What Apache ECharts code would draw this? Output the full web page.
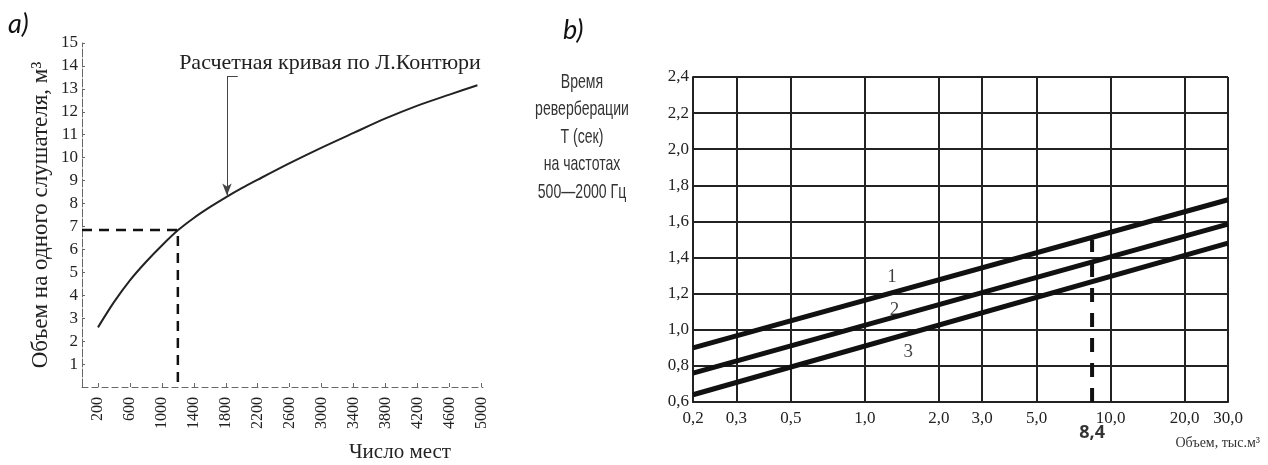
<!DOCTYPE html>
<html>
<head>
<meta charset="utf-8">
<script src="https://cdn.jsdelivr.net/npm/echarts@6/dist/echarts.min.js"></script>
<style>
html,body{margin:0;padding:0;background:#fff;}
#main{width:1268px;height:465px;}
</style>
</head>
<body>
<div id="main"></div>
<script>
// ---- Panel a) data ----
const seatsX = [200, 400, 600, 800, 1000, 1200, 1400, 1600, 1800, 2000, 2200, 2600, 3000, 3400, 3800, 4200, 4600, 4950];
const volumePerListener = [2.6, 3.7, 4.65, 5.45, 6.17, 6.83, 7.37, 7.84, 8.27, 8.67, 9.04, 9.76, 10.44, 11.08, 11.71, 12.27, 12.75, 13.16];
const seatTicks = [200, 600, 1000, 1400, 1800, 2200, 2600, 3000, 3400, 3800, 4200, 4600, 5000];
const refSeats = 1200;
const refVolume = 6.85;
const arrowSeats = 1815;
const arrowTop = 13.55;
const arrowTip = 8.35;
const arrowBracketEnd = 1950;

// ---- Panel b) data ----
const volumeTicks = [0.2, 0.3, 0.5, 1, 2, 3, 5, 10, 20, 30];
const volumeEnds = [0.2, 30];
const curve1 = [0.90, 1.72];
const curve2 = [0.76, 1.585];
const curve3 = [0.64, 1.48];
const refHallVolume = 8.4;
const refHallTop = 1.5;
const curveLabels = [
  {name: '1', x: 1.29, y: 1.29},
  {name: '2', x: 1.32, y: 1.11},
  {name: '3', x: 1.5, y: 0.875}
];

const SERIF = '"Liberation Serif", "Times New Roman", serif';
const SANS = '"Liberation Sans", Arial, sans-serif';
const comma = v => Number(v).toFixed(1).replace('.', ',');

const chart = echarts.init(document.getElementById('main'), null, {renderer: 'canvas'});

const option = {
  animation: false,
  backgroundColor: '#fff',
  grid: [
    {left: 82, top: 43, width: 401, height: 344},
    {left: 693, top: 77, width: 535, height: 325}
  ],
  xAxis: [
    {
      gridIndex: 0, type: 'value', min: 0, max: 5020,
      axisLine: {show: true, lineStyle: {color: '#666', width: 1, type: [6, 4]}},
      axisTick: {show: true, inside: true, length: 4, customValues: seatTicks, lineStyle: {color: '#666'}},
      axisLabel: {customValues: seatTicks, rotate: 90, margin: 10, fontFamily: SERIF, fontSize: 16, color: '#222', formatter: v => String(v)},
      splitLine: {show: false}
    },
    {
      gridIndex: 1, type: 'log', logBase: 10, min: 0.2, max: 30,
      axisLine: {show: true, lineStyle: {color: '#222', width: 2}},
      axisTick: {show: false, customValues: volumeTicks},
      axisLabel: {customValues: volumeTicks, margin: 8, fontFamily: SERIF, fontSize: 17, color: '#222', formatter: comma},
      splitLine: {show: true, lineStyle: {color: '#222', width: 2}},
      minorTick: {show: false}, minorSplitLine: {show: false}
    }
  ],
  yAxis: [
    {
      gridIndex: 0, type: 'value', min: 0, max: 15, interval: 1,
      name: 'Объем на одного слушателя, м³', nameLocation: 'middle', nameRotate: 90, nameGap: 30,
      nameTextStyle: {fontFamily: SERIF, fontSize: 23, color: '#222'},
      axisLine: {show: true, lineStyle: {color: '#666', width: 1, type: [8, 2]}},
      axisTick: {show: true, inside: true, length: 3, lineStyle: {color: '#666'}},
      axisLabel: {margin: 4, fontFamily: SERIF, fontSize: 17, color: '#222', formatter: v => v === 0 ? '' : String(v)},
      splitLine: {show: false}
    },
    {
      gridIndex: 1, type: 'value', min: 0.6, max: 2.4, interval: 0.2,
      axisLine: {show: true, lineStyle: {color: '#222', width: 2}},
      axisTick: {show: false},
      axisLabel: {margin: 4, fontFamily: SERIF, fontSize: 17, color: '#222', formatter: comma},
      splitLine: {show: true, lineStyle: {color: '#222', width: 2}}
    }
  ],
  series: [
    {
      type: 'line', xAxisIndex: 0, yAxisIndex: 0, smooth: 0.3, showSymbol: false,
      lineStyle: {color: '#222', width: 2},
      data: seatsX.map((x, i) => [x, volumePerListener[i]]),
      markLine: {
        silent: true, animation: false,
        data: [
          [{coord: [arrowSeats, arrowTop], symbol: 'none'}, {coord: [arrowSeats, arrowTip], symbol: 'arrow', symbolSize: [7, 12]}],
          [{coord: [arrowSeats, arrowTop], symbol: 'none'}, {coord: [arrowBracketEnd, arrowTop], symbol: 'none'}]
        ],
        lineStyle: {color: '#444', width: 1, type: 'solid'},
        label: {show: false}
      }
    },
    {
      type: 'line', xAxisIndex: 0, yAxisIndex: 0, showSymbol: false,
      lineStyle: {color: '#111', width: 2.5, type: [10, 7]},
      data: [[0, refVolume], [refSeats, refVolume], [refSeats, 0]]
    },
    {
      type: 'line', xAxisIndex: 1, yAxisIndex: 1, showSymbol: false,
      lineStyle: {color: '#111', width: 5},
      data: volumeEnds.map((x, i) => [x, curve1[i]])
    },
    {
      type: 'line', xAxisIndex: 1, yAxisIndex: 1, showSymbol: false,
      lineStyle: {color: '#111', width: 5},
      data: volumeEnds.map((x, i) => [x, curve2[i]])
    },
    {
      type: 'line', xAxisIndex: 1, yAxisIndex: 1, showSymbol: false,
      lineStyle: {color: '#111', width: 5},
      data: volumeEnds.map((x, i) => [x, curve3[i]])
    },
    {
      type: 'line', xAxisIndex: 1, yAxisIndex: 1, showSymbol: false,
      lineStyle: {color: '#111', width: 4, type: [14, 11]},
      data: [[refHallVolume, 0.6], [refHallVolume, refHallTop]]
    },
    {
      type: 'scatter', xAxisIndex: 1, yAxisIndex: 1, symbolSize: 0,
      label: {show: true, position: 'bottom', distance: 22, formatter: () => comma(refHallVolume),
        fontFamily: '"Open Sans", "DejaVu Sans", sans-serif', fontWeight: 'bold', fontSize: 18, color: '#000'},
      data: [[refHallVolume, 0.6]]
    },
    {
      type: 'scatter', xAxisIndex: 1, yAxisIndex: 1, symbolSize: 0,
      label: {show: true, position: 'inside', formatter: p => p.name, fontFamily: SERIF, fontSize: 19, color: '#111'},
      data: curveLabels.map(d => ({name: d.name, value: [d.x, d.y]}))
    }
  ],
  graphic: [
    {type: 'text', left: 8, top: 11, style: {text: 'a)', font: 'italic 27px Lato, "Open Sans", sans-serif', fill: '#111'}},
    {type: 'text', left: 563, top: 17, style: {text: 'b)', font: 'italic 27px Lato, "Open Sans", sans-serif', fill: '#111'}},
    {type: 'text', x: 330, y: 63, style: {text: 'Расчетная кривая по Л.Контюри', font: '22px ' + SERIF, fill: '#222', textAlign: 'center', textVerticalAlign: 'middle'}},
    {type: 'text', x: 400, y: 452, style: {text: 'Число мест', font: '21px ' + SERIF, fill: '#222', textAlign: 'center', textVerticalAlign: 'middle'}},
    {type: 'text', x: 582, y: 68, scaleX: 0.67, style: {text: 'Время\nреверберации\nТ (сек)\nна частотах\n500—2000 Гц', font: '21px ' + SANS, lineHeight: 27.5, fill: '#333', textAlign: 'center', textVerticalAlign: 'top'}},
    {type: 'text', x: 1260, y: 443, style: {text: 'Объем, тыс.м³', font: '14px ' + SERIF, fill: '#333', textAlign: 'right', textVerticalAlign: 'middle'}}
  ]
};
chart.setOption(option);
</script>
</body>
</html>
